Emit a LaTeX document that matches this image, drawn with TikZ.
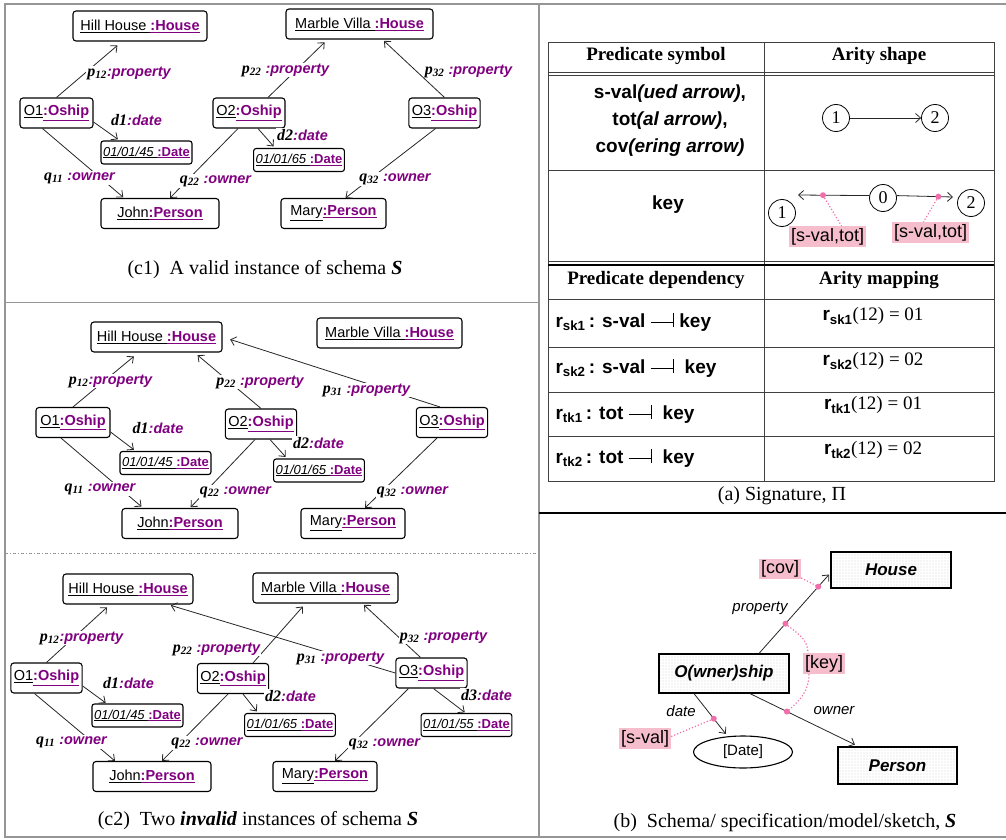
\documentclass[tikz,border=0pt]{standalone}
\usepackage{fontspec}
\setmainfont{Liberation Serif}
\setsansfont{Liberation Sans}
\usepackage{tikz}
\usetikzlibrary{
    positioning,
    arrows.meta,
    shapes.geometric,
    patterns.meta
}
\definecolor{instPurple}{RGB}{128, 0, 128}
\definecolor{tagPink}{RGB}{246, 190, 205}
\definecolor{dotPink}{RGB}{240, 110, 170}
\definecolor{frameGray}{RGB}{150, 150, 150}

\newcommand{\obj}[2]{\underline{#1}\textcolor{instPurple}{\underline{\textbf{#2}}}}
\newcommand{\dobj}[2]{\underline{\textit{#1}}\textcolor{instPurple}{\underline{\textbf{#2}}}}
\newcommand{\elab}[3]{{\rmfamily\fontsize{16}{18}\selectfont\textbf{\textit{#1}}\textsubscript{\textbf{\textit{#2}}}}\textcolor{instPurple}{#3}}
\newcommand{\dlab}[2]{{\rmfamily\fontsize{16}{18}\selectfont\textbf{\textit{#1}}}\textcolor{instPurple}{#2}}
\newcommand{\keybar}{\raisebox{4pt}{\rule{22pt}{0.9pt}}\rule{1.4pt}{14pt}}

\begin{document}
\begin{tikzpicture}[x=1pt, y=-1pt, >={Straight Barb[length=5pt, width=9pt]},
    obox/.style={draw, line width=1.1pt, rounded corners=3pt, minimum height=30pt,
        minimum width=#1, inner xsep=3pt, font=\sffamily\fontsize{14.5}{16}\selectfont},
    dbox/.style={draw, line width=1.1pt, rounded corners=2.5pt, minimum height=23pt,
        minimum width=#1, inner xsep=2pt, font=\sffamily\fontsize{13}{15}\selectfont},
    elabel/.style={fill=white, inner sep=1pt, font=\sffamily\bfseries\itshape\fontsize{14.5}{16}\selectfont},
    arr/.style={->, line width=0.8pt, black!85},
    capt/.style={font=\rmfamily\fontsize{20}{22}\selectfont},
    thead/.style={font=\rmfamily\bfseries\fontsize{19}{21}\selectfont},
    tcell/.style={font=\sffamily\bfseries\fontsize{19}{27}\selectfont},
    tmap/.style={font=\rmfamily\fontsize{19}{21}\selectfont},
    arity/.style={circle, draw, line width=0.8pt, minimum size=27pt, inner sep=0pt,
        font=\rmfamily\fontsize{18}{18}\selectfont},
    pinktag/.style={fill=tagPink, inner sep=2pt, font=\sffamily\fontsize{18}{20}\selectfont},
    pinkline/.style={dotPink, dotted, line width=1.2pt},
    sbox/.style={draw, line width=1.2pt, pattern={Dots[distance=3pt, radius=0.45pt]},
        pattern color=black!50, font=\sffamily\bfseries\itshape\fontsize{17}{19}\selectfont},
    slabel/.style={font=\sffamily\itshape\fontsize{15}{17}\selectfont}]
    \useasboundingbox (0,0) rectangle (1006,840);

    % frame
    \draw[frameGray, line width=1.2pt] (1006,4) -- (5,4) -- (5,837) -- (1006,837);
    \draw[frameGray, line width=1.2pt] (539,4) -- (539,837);
    \draw[frameGray, line width=1pt] (5,302) -- (539,302);
    \draw[frameGray, line width=1pt, dash dot] (5,553) -- (539,553);
    \draw[line width=2.5pt] (539,513) -- (1006,513);

    % (c1) valid instance
    \node[obox=134pt] (hillA) at (140,26) {\obj{Hill House }{:House}};
    \node[obox=147pt] (villaA) at (359.5,24) {\obj{Marble Villa }{:House}};
    \node[obox=73pt] (o1A) at (56.5,113) {\obj{O1}{:Oship}};
    \node[obox=72pt] (o2A) at (249,113) {\obj{O2}{:Oship}};
    \node[obox=69pt] (o3A) at (444.5,113) {\obj{O3}{:Oship}};
    \node[dbox=91pt] (d45A) at (146.5,152.5) {\dobj{01/01/45 }{:Date}};
    \node[dbox=90pt] (d65A) at (299,160) {\dobj{01/01/65 }{:Date}};
    \node[obox=118pt] (johnA) at (160,213.5) {\obj{John}{:Person}};
    \node[obox=105pt] (maryA) at (333.5,213.5) {\obj{Mary}{:Person}};

    \draw[arr, shorten >=6pt] (o1A.north) -- ([xshift=-18pt]hillA.south);
    \draw[arr, shorten >=2pt] ([yshift=-9pt]o1A.east) -- ([xshift=-27pt]d45A.north);
    \draw[arr, shorten >=1pt] ([xshift=-14pt]o1A.south) -- ([xshift=-36pt]johnA.north);
    \draw[arr, shorten >=4pt] ([xshift=19pt]o2A.north) -- ([xshift=-32pt]villaA.south);
    \draw[arr, shorten >=2pt] (o3A.north) -- ([xshift=23pt]villaA.south);
    \draw[arr, shorten >=2pt] ([xshift=9pt]o2A.south) -- ([xshift=-24pt]d65A.north);
    \draw[arr] ([xshift=-11pt]o2A.south) -- ([xshift=10pt]johnA.north);
    \draw[arr] ([xshift=-9pt]o3A.south) -- ([xshift=12pt]maryA.north);

    \node[elabel] (p12A) at (129,73) {\elab{p}{12}{:property}};
    \node[elabel] (d1A) at (136.5,120) {\dlab{d1}{:date}};
    \node[elabel] (q11A) at (79.5,178) {\elab{q}{11}{~:owner}};
    \node[elabel] (p22A) at (285.5,70) {\elab{p}{22}{~:property}};
    \node[elabel] (p32A) at (468.5,71) {\elab{p}{32}{~:property}};
    \node[elabel] (d2A) at (302.5,135) {\dlab{d2}{:date}};
    \node[elabel] (q22A) at (215.5,181) {\elab{q}{22}{~:owner}};
    \node[elabel] (q32A) at (395,179) {\elab{q}{32}{~:owner}};

    \node[capt] (capA) at (265,270) {(c1)\ \ A valid instance of schema \textbf{\textit{S}}};

    % (c2) first invalid instance
    \node[obox=131pt] (hillB) at (156.5,337) {\obj{Hill House }{:House}};
    \node[obox=145pt] (villaB) at (389.5,333) {\obj{Marble Villa }{:House}};
    \node[obox=74pt] (o1B) at (73,422.5) {\obj{O1}{:Oship}};
    \node[obox=70pt] (o2B) at (261,424) {\obj{O2}{:Oship}};
    \node[obox=70pt] (o3B) at (452,422.5) {\obj{O3}{:Oship}};
    \node[dbox=91pt] (d45B) at (165.5,463) {\dobj{01/01/45 }{:Date}};
    \node[dbox=90pt] (d65B) at (319,470.5) {\dobj{01/01/65 }{:Date}};
    \node[obox=116pt] (johnB) at (180,523.5) {\obj{John}{:Person}};
    \node[obox=104pt] (maryB) at (353,523.5) {\obj{Mary}{:Person}};

    \draw[arr, shorten >=6pt] (o1B.north) -- ([xshift=-18pt]hillB.south);
    \draw[arr, shorten >=4pt] (o2B.north) -- ([xshift=38pt]hillB.south);
    \draw[arr, shorten >=8pt] ([xshift=-12pt]o3B.north) -- (hillB.east);
    \draw[arr, shorten >=2pt] ([yshift=-9.5pt]o1B.east) -- ([xshift=-30pt]d45B.north);
    \draw[arr, shorten >=2pt] ([xshift=9pt]o2B.south) -- ([xshift=-32pt]d65B.north);
    \draw[arr, shorten >=2pt] ([xshift=-12pt]o1B.south) -- ([xshift=-37pt]johnB.north);
    \draw[arr, shorten >=1pt] ([xshift=-6pt]o2B.south) -- ([xshift=10pt]johnB.north);
    \draw[arr] ([xshift=-15pt]o3B.south) -- ([xshift=12pt]maryB.north);

    \node[elabel] (p12B) at (110.5,381) {\elab{p}{12}{:property}};
    \node[elabel] (p22B) at (260,382) {\elab{p}{22}{~:property}};
    \node[elabel] (p31B) at (366.5,390) {\elab{p}{31}{~:property}};
    \node[elabel] (d1B) at (158,428) {\dlab{d1}{:date}};
    \node[elabel] (d2B) at (318.5,443) {\dlab{d2}{:date}};
    \node[elabel] (q11B) at (100,489) {\elab{q}{11}{~:owner}};
    \node[elabel] (q22B) at (235.5,492) {\elab{q}{22}{~:owner}};
    \node[elabel] (q32B) at (412.5,492) {\elab{q}{32}{~:owner}};

    % (c2) second invalid instance
    \node[obox=130pt] (hillC) at (128,589) {\obj{Hill House }{:House}};
    \node[obox=145pt] (villaC) at (325.5,588) {\obj{Marble Villa }{:House}};
    \node[obox=69pt] (o1C) at (46.5,678) {\obj{O1}{:Oship}};
    \node[obox=70pt] (o2C) at (233,678.5) {\obj{O2}{:Oship}};
    \node[obox=69pt] (o3C) at (431.5,673) {\obj{O3}{:Oship}};
    \node[dbox=91pt] (d45C) at (137.5,715.5) {\dobj{01/01/45 }{:Date}};
    \node[dbox=90pt] (d65C) at (290,725) {\dobj{01/01/65 }{:Date}};
    \node[dbox=83pt] (d55C) at (466.5,725) {\dobj{01/01/55 }{:Date}};
    \node[obox=118pt] (johnC) at (152,776.5) {\obj{John}{:Person}};
    \node[obox=104pt] (maryC) at (325,776.5) {\obj{Mary}{:Person}};

    \draw[arr, shorten >=4pt] (o1C.north) -- ([xshift=-18pt]hillC.south);
    \draw[arr, shorten >=4pt] ([xshift=20pt]o2C.north) -- ([xshift=-20pt]villaC.south);
    \draw[arr, shorten >=3pt] (o3C.west) -- ([xshift=40pt]hillC.south);
    \draw[arr, shorten >=2pt] ([xshift=-11pt]o3C.north) -- ([xshift=37pt]villaC.south);
    \draw[arr, shorten >=1pt] ([yshift=-8pt]o1C.east) -- ([xshift=-31pt]d45C.north);
    \draw[arr, shorten >=2pt] ([xshift=10pt]o2C.south) -- ([xshift=-32pt]d65C.north);
    \draw[arr, shorten >=1pt] ([xshift=2pt]o3C.south) -- ([xshift=-1pt]d55C.north);
    \draw[arr] ([xshift=-12pt]o1C.south) -- ([xshift=-37pt]johnC.north);
    \draw[arr] ([xshift=-5pt]o2C.south) -- ([xshift=10pt]johnC.north);
    \draw[arr] ([xshift=-23pt]o3C.south) -- ([xshift=10pt]maryC.north);

    \node[elabel] (p12C) at (81.5,638) {\elab{p}{12}{:property}};
    \node[elabel] (p22C) at (216.5,649) {\elab{p}{22}{~:property}};
    \node[elabel] (p31C) at (340.5,658) {\elab{p}{31}{~:property}};
    \node[elabel] (p32C) at (443.5,637) {\elab{p}{32}{~:property}};
    \node[elabel] (d1C) at (128.5,683) {\dlab{d1}{:date}};
    \node[elabel] (d2C) at (290.5,696) {\dlab{d2}{:date}};
    \node[elabel] (d3C) at (486.5,695) {\dlab{d3}{:date}};
    \node[elabel] (q11C) at (71.5,742) {\elab{q}{11}{~:owner}};
    \node[elabel] (q22C) at (207,743) {\elab{q}{22}{~:owner}};
    \node[elabel] (q32C) at (384.5,744) {\elab{q}{32}{~:owner}};

    \node[capt] (capC) at (258,821) {(c2)\ \ Two \textbf{\textit{invalid}} instances of schema \textbf{\textit{S}}};

    % (a) signature table
    \draw[line width=0.6pt, black!75] (548,42) rectangle (994,481);
    \draw[line width=0.6pt, black!75] (764,42) -- (764,481);
    \foreach \yy in {72, 75, 170, 261, 299, 347, 392, 436}
        \draw[line width=0.6pt, black!75] (548,\yy) -- (994,\yy);
    \draw[line width=2.5pt] (548,265) -- (994,265);

    \node[thead] (hSym) at (656,56) {Predicate symbol};
    \node[thead] (hShape) at (879,56) {Arity shape};
    \node[tcell, align=center] (symList) at (670,121)
        {s-val\textit{(ued arrow)},\\ tot\textit{(al arrow)},\\ cov\textit{(ering arrow)}};
    \node[tcell] (keyName) at (668,205) {key};

    \node[arity] (a1) at (836,118) {1};
    \node[arity] (a2) at (935,118) {2};
    \draw[arr] (a1) -- (a2);

    \node[arity] (k0) at (883,198) {0};
    \node[arity] (k1) at (782,213) {1};
    \node[arity] (k2) at (971,203) {2};
    \draw[arr] (k0.170) -- coordinate[pos=0.65] (dotL) ([shift={(16pt,18pt)}]k1.center);
    \draw[arr] (k0.10) -- coordinate[pos=0.74] (dotR) ([shift={(-18pt,6pt)}]k2.center);
    \node[pinktag] (tagL) at (827.5,236.5) {[s-val,tot]};
    \node[pinktag] (tagR) at (930.5,232.5) {[s-val,tot]};
    \draw[pinkline] (dotL) -- ([xshift=14pt]tagL.north);
    \draw[pinkline] (dotR) -- ([xshift=-7pt]tagR.north);
    \fill[dotPink] (dotL) circle (3pt) (dotR) circle (3pt);

    \node[thead] (hDep) at (656,280) {Predicate dependency};
    \node[thead] (hMap) at (879,280) {Arity mapping};

    \node[tcell, anchor=west] (dep1) at (552,322) {r\textsubscript{sk1}\,: s-val \keybar\ key};
    \node[tcell, anchor=west] (dep2) at (552,368) {r\textsubscript{sk2}\,: s-val \keybar\ \ key};
    \node[tcell, anchor=west] (dep3) at (552,414) {r\textsubscript{tk1}\,: tot \keybar\ \ key};
    \node[tcell, anchor=west] (dep4) at (552,458) {r\textsubscript{tk2}\,: tot \keybar\ \ key};

    \node[tmap] (map1) at (873,316) {\textsf{\textbf{r}\textsubscript{\textbf{sk1}}}(12) = 01};
    \node[tmap] (map2) at (873,361) {\textsf{\textbf{r}\textsubscript{\textbf{sk2}}}(12) = 02};
    \node[tmap] (map3) at (873,405) {\textsf{\textbf{r}\textsubscript{\textbf{tk1}}}(12) = 01};
    \node[tmap] (map4) at (873,450) {\textsf{\textbf{r}\textsubscript{\textbf{tk2}}}(12) = 02};

    \node[capt] (capSig) at (782,496) {(a) Signature, Π};

    % (b) schema
    \node[sbox, minimum width=120pt, minimum height=36pt] (houseS) at (891,570) {House};
    \node[sbox, minimum width=130pt, minimum height=39pt] (oshipS) at (724,673.5) {O(wner)ship};
    \node[sbox, minimum width=119pt, minimum height=37pt] (personS) at (897.5,765.5) {Person};
    \node[draw, line width=1.1pt, ellipse, minimum width=99pt, minimum height=32pt,
        font=\sffamily\fontsize{15}{17}\selectfont] (dateS) at (743,752) {[Date]};

    \draw[arr, shorten >=2pt] ([xshift=35pt]oshipS.north) -- coordinate[pos=0.37] (keyDotA)
        coordinate[pos=0.83] (covDot) ([yshift=-3pt]houseS.west);
    \draw[arr, shorten >=2pt] ([xshift=-30pt]oshipS.south) -- coordinate[pos=0.6] (svalDot)
        ([xshift=-16pt]dateS.north);
    \draw[arr, shorten >=4pt] ([xshift=26pt]oshipS.south) -- coordinate[pos=0.34] (keyDotB)
        ([xshift=-39pt]personS.north);

    \node[slabel] (lProp) at (760,608) {property};
    \node[slabel] (lDate) at (681,711) {date};
    \node[slabel] (lOwner) at (834,711) {owner};

    \node[pinktag] (tagCov) at (780,569) {[cov]};
    \node[pinktag] (tagKey) at (824,663.5) {[key]};
    \node[pinktag] (tagSval) at (645,738.5) {[s-val]};
    \draw[pinkline] ([yshift=-9pt]tagCov.east) -- (covDot);
    \draw[pinkline] (keyDotA) to[out=-40, in=90] ([xshift=-16pt]tagKey.north);
    \draw[pinkline] ([xshift=-15pt]tagKey.south) to[out=-90, in=40] (keyDotB);
    \draw[pinkline] ([yshift=2pt]tagSval.east) -- (svalDot);
    \fill[dotPink] (covDot) circle (3pt) (keyDotA) circle (3pt) (keyDotB) circle (3pt)
        (svalDot) circle (3pt);

    \node[capt] (capSchema) at (785,823) {(b)\ \ Schema/ specification/model/sketch, \textbf{\textit{S}}};
\end{tikzpicture}
\end{document}
